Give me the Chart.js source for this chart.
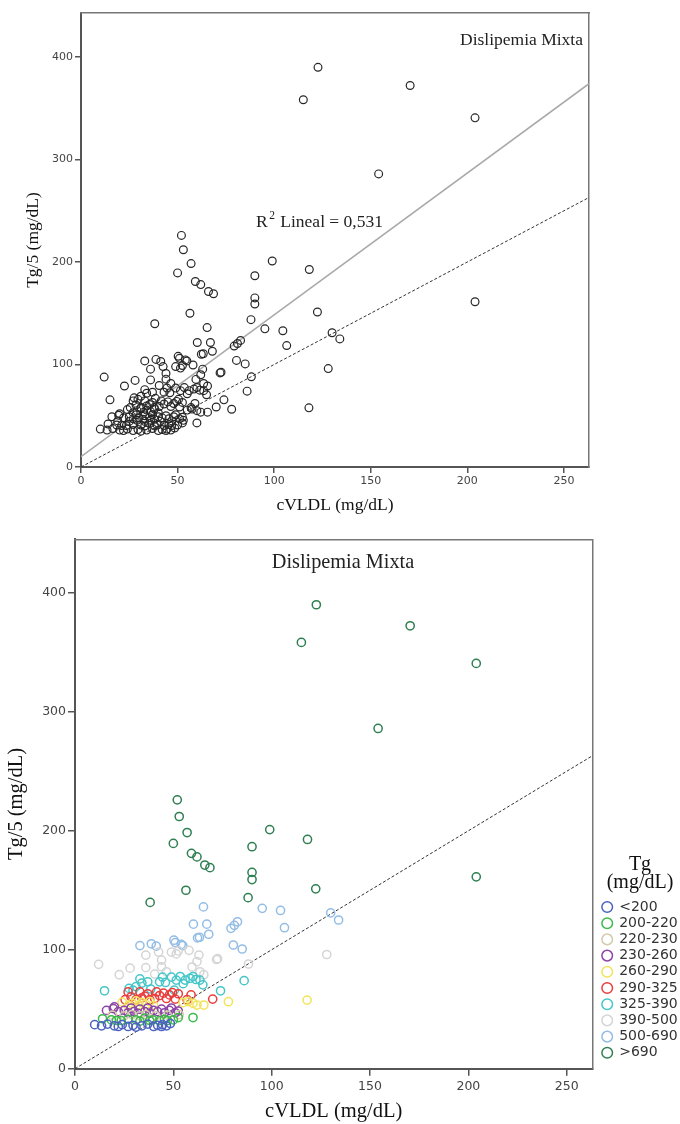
<!DOCTYPE html>
<html>
<head>
<meta charset="utf-8">
<script src="https://cdn.jsdelivr.net/npm/chart.js@4.4.1/dist/chart.umd.min.js"></script>
<style>
html,body{margin:0;padding:0;background:#fff;}
#wrap{position:relative;width:680px;height:1124px;overflow:hidden;}
#c1{position:absolute;left:0;top:0;}
#c2{position:absolute;left:0;top:520px;}
</style>
</head>
<body>
<div id="wrap">
<canvas id="c1" width="680" height="520"></canvas>
<canvas id="c2" width="680" height="604"></canvas>
</div>
<script>
// ---------------- DATA ----------------
const tgGroups = ['<200','200-220','220-230','230-260','260-290','290-325','325-390','390-500','500-690','>690'];
const groupColors = ['#4b62c0','#3cba4b','#d4cbaa','#8c44a6','#f2e45a','#ea3d3d','#45c6c8','#d5d5d5','#93bde5','#2f7f52'];

// [cVLDL, Tg/5] pairs for each Tg group
const pts_lt200   = [[10,37],[13.5,36],[16.5,37.5],[20,36],[22,35.5],[24,37],[27,35.5],[29.5,36.5],[31,35],[34,36],[37,37.5],[40,35.5],[42,36.5],[44,35.5],[44.5,37],[46.5,36],[48.5,38]];
const pts_200_220 = [[14,42],[18.5,41],[21,40.5],[23.5,40.5],[27,41.5],[31,41],[33,40],[35.5,42.5],[38,40.5],[39.5,41],[43,40.5],[45.5,41.5],[47,40.5],[50,41],[52.5,43],[60,43]];
const pts_220_230 = [[19,45],[25,44.5],[29,45.5],[33,44.5],[36,45.5],[41,44.5],[47,45],[53,45.5]];
const pts_230_260 = [[16,49],[19.5,50.5],[20,52],[22,48],[25,49],[27,47],[28.5,51],[30,48],[32,46.5],[33,50],[35.5,48],[37,51],[38,46.5],[40,49],[42,48],[44,50],[45.5,47],[48,49],[49,51],[51,47],[52.5,48.5]];
const pts_260_290 = [[24,56],[27,53],[29,55],[31,57],[32.5,53.5],[34,55.5],[36,54],[38,56.5],[40,53],[55,55.5],[57.5,56.5],[60,55],[62,53.5],[65.5,53.5],[78,56.3],[118,57.7]];
const pts_290_325 = [[25.5,58],[27,64.5],[28.5,60.5],[31,58],[33,64.5],[34,59.5],[35.5,61],[37,63],[38,58],[40.5,59],[41.5,64.5],[43,61.5],[45,63.5],[46.5,59],[48,62],[49.5,64],[51,58.5],[52.5,63],[57,58],[59,62],[70,58.5]];
const pts_325_390 = [[15,65.5],[27.5,67.5],[29.5,66],[31,69],[33,75.5],[34,72],[37,73],[38.5,67],[43,73],[44.5,77],[46,72.5],[49,77],[50.5,66],[51.5,74.5],[53.5,77.5],[55,71.5],[56,74.5],[58.5,76],[60,77.5],[61.5,75],[63.5,74.5],[65,70.5],[74,65.5],[86,74]];
const pts_390_500 = [[12,87.7],[22.5,79],[28,84.5],[36,95.5],[36,85],[40.5,79.5],[42.5,98],[44,91.3],[44,85.7],[46.5,81.5],[49,98],[51.5,96.5],[52.5,99],[58,99.5],[59.5,85.5],[62,90],[63,95.5],[63.5,81.5],[65.5,79],[72,91.8],[72.5,92.5],[88.2,88],[128,96]];
const pts_500_690 = [[33,103.5],[38.8,105],[41.3,103],[50.3,108],[51,106],[54,104.5],[54.8,103.5],[60.2,121.5],[62.3,110],[63.3,110.5],[65.3,136],[67,121.5],[68,113],[79.3,118],[81,120.5],[82.6,123.5],[80.5,104],[85,100.6],[95.2,134.8],[104.5,133],[106.5,118.5],[130,131],[134,125]];
const pts_gt690   = [[38.2,139.8],[50,189.4],[52,226],[53,212],[56.4,150],[57,198.5],[59.2,181],[62,178],[66,171.2],[68.6,169],[88,143.8],[90,186.6],[90,165],[90,159],[99,201],[115.1,358.3],[118.2,192.7],[122.4,151.2],[122.7,390],[154.1,286],[170.4,372.3],[204,340.7],[204,161.3]];

const groupPoints = [pts_lt200,pts_200_220,pts_220_230,pts_230_260,pts_260_290,pts_290_325,pts_325_390,pts_390_500,pts_500_690,pts_gt690];

// linear fit shown on top chart
const fitIntercept = 10;
const fitSlope = 1.384;
const fitR2 = '0,531';

// axes
const xMax = 263;
const yMaxTop = 443;
const yMaxBottom = 445;
const xTickValues = [0,50,100,150,200,250];
const yTickValues = [0,100,200,300,400];
const xTitle = 'cVLDL (mg/dL)';
const yTitle = 'Tg/5 (mg/dL)';
const chartLabel = 'Dislipemia Mixta';
const legendTitle = ['Tg','(mg/dL)'];

// ---------------- HELPERS ----------------
const toXY = arr => arr.map(p => ({x:p[0], y:p[1]}));
const SERIF = '"Liberation Serif", "DejaVu Serif", serif';
const SANS = '"DejaVu Sans", sans-serif';

const notesPlugin = {
  id: 'notes',
  afterDraw(chart, args, opts) {
    const ctx = chart.ctx;
    ctx.save();
    ctx.textBaseline = 'middle';
    (opts.items || []).forEach(it => {
      let x = it.x;
      ctx.fillStyle = it.color || '#222';
      ctx.textAlign = it.align || 'left';
      if (it.parts) {
        ctx.textAlign = 'left';
        it.parts.forEach(p => {
          ctx.font = p.size + 'px ' + SERIF;
          ctx.fillText(p.text, x + (p.dx || 0), it.y + (p.dy || 0));
          x += ctx.measureText(p.text).width + (p.dx || 0);
        });
      } else {
        ctx.font = it.size + 'px ' + SERIF;
        ctx.fillText(it.text, x, it.y);
      }
    });
    ctx.restore();
  }
};

function makeScales(c) {
  return {
    x: {
      type:'linear', position:'bottom', min:0, max:xMax,
      afterFit: s => { s.height = c.xH; },
      afterBuildTicks: s => { s.ticks = xTickValues.map(v => ({value:v})); },
      grid: {drawOnChartArea:false, drawTicks:true, tickLength:c.tl, color:'#555', lineWidth:1.5},
      border: {display:true, color:'#555', width:2},
      ticks: {font:{family:SANS, size:c.tickSize}, color:'#444', padding:c.xPad, maxRotation:0, autoSkip:false},
      title: {display:true, text:xTitle, font:{family:SERIF, size:c.titleSize}, color:'#111', padding:{top:0, bottom:c.xTitlePad}}
    },
    y: {
      type:'linear', position:'left', min:0, max:c.yMax,
      afterFit: s => { s.width = c.yW; },
      afterBuildTicks: s => { s.ticks = yTickValues.map(v => ({value:v})); },
      grid: {drawOnChartArea:false, drawTicks:true, tickLength:c.tl, color:'#555', lineWidth:1.5},
      border: {display:true, color:'#555', width:2},
      ticks: {font:{family:SANS, size:c.tickSize}, color:'#444', padding:c.yPad, autoSkip:false},
      title: {display:true, text:yTitle, font:{family:SERIF, size:c.titleSize}, color:'#111', padding:{top:c.yTitlePad, bottom:0}}
    },
    x2: {
      type:'linear', position:'top', min:0, max:xMax,
      afterFit: s => { s.height = c.topH; },
      grid:{display:false}, ticks:{display:false},
      border:{display:true, color:'#777', width:1.5}
    },
    y2: {
      type:'linear', position:'right', min:0, max:c.yMax,
      afterFit: s => { s.width = c.rightW; },
      grid:{display:false}, ticks:{display:false},
      border:{display:true, color:'#777', width:1.5}
    }
  };
}

// ---------------- TOP CHART ----------------
const allPoints = groupPoints.flat();
new Chart(document.getElementById('c1'), {
  type: 'scatter',
  data: {
    datasets: [
      {
        label: 'Tg/5',
        data: toXY(allPoints),
        pointStyle: 'circle',
        pointRadius: 3.9,
        borderWidth: 1.2,
        borderColor: '#262626',
        backgroundColor: 'rgba(0,0,0,0)'
      },
      {
        label: 'fit',
        data: [{x:0, y:fitIntercept}, {x:xMax, y:fitIntercept + fitSlope * xMax}],
        showLine: true, pointRadius: 0, borderColor: '#a9a9a9', borderWidth: 1.5
      },
      {
        label: 'ref',
        data: [{x:0, y:0}, {x:xMax, y:xMax}],
        showLine: true, pointRadius: 0, borderColor: '#333', borderWidth: 1, borderDash: [3,2]
      }
    ]
  },
  options: {
    responsive: false, animation: false, devicePixelRatio: 1,
    layout: {padding: {left:0, right:0, top:0, bottom:0}},
    plugins: {
      legend: {display:false}, tooltip: {enabled:false},
      notes: {items: [
        {text: chartLabel, x: 583, y: 40, size: 17.5, align: 'right'},
        {x: 256, y: 222, parts: [
          {text:'R', size:17.5},
          {text:'2', size:11.5, dy:-6, dx:1.5},
          {text:' Lineal = ' + fitR2, size:17.5, dx:1}
        ]}
      ]}
    },
    scales: makeScales({xH:53, yW:81, topH:13, rightW:91, yMax:yMaxTop, tl:6, tickSize:11, xPad:2, yPad:2, titleSize:17.5, xTitlePad:4.5, yTitlePad:22.5})
  },
  plugins: [notesPlugin]
});

// ---------------- BOTTOM CHART ----------------
const groupDatasets = tgGroups.map((g, i) => ({
  label: g,
  data: toXY(groupPoints[i]),
  pointStyle: 'circle',
  pointRadius: 4.1,
  borderWidth: 1.5,
  borderColor: groupColors[i],
  backgroundColor: 'rgba(0,0,0,0)'
}));
groupDatasets.push({
  label: 'ref',
  data: [{x:0, y:0}, {x:xMax, y:xMax}],
  showLine: true, pointRadius: 0, borderColor: '#333', borderWidth: 1, borderDash: [3,2]
});

new Chart(document.getElementById('c2'), {
  type: 'scatter',
  data: { datasets: groupDatasets },
  options: {
    responsive: false, animation: false, devicePixelRatio: 1,
    layout: {padding: {left:0, right:0, top:0, bottom:0}},
    plugins: {
      tooltip: {enabled:false},
      legend: {
        display: true, position: 'right', align: 'start', fullSize: false, maxWidth: 80,
        title: {display:true, text: legendTitle, position:'center', color:'#111',
                font:{family:SERIF, size:20, lineHeight:0.9}, padding:{top:315.7, bottom:24.8}},
        labels: {
          usePointStyle: true, boxWidth: 10, boxHeight: 7.5, padding: 2.2,
          color: '#333', font: {family:SANS, size:14},
          filter: item => item.datasetIndex < tgGroups.length
        }
      },
      notes: {items: [
        {text: chartLabel, x: 343, y: 42.7, size: 20.3, align: 'center'}
      ]}
    },
    scales: makeScales({xH:55.3, yW:75, topH:19.3, rightW:7.7, yMax:yMaxBottom, tl:7, tickSize:12.5, xPad:4, yPad:2, titleSize:20.5, xTitlePad:0, yTitlePad:4.7})
  },
  plugins: [notesPlugin]
});
</script>
</body>
</html>
